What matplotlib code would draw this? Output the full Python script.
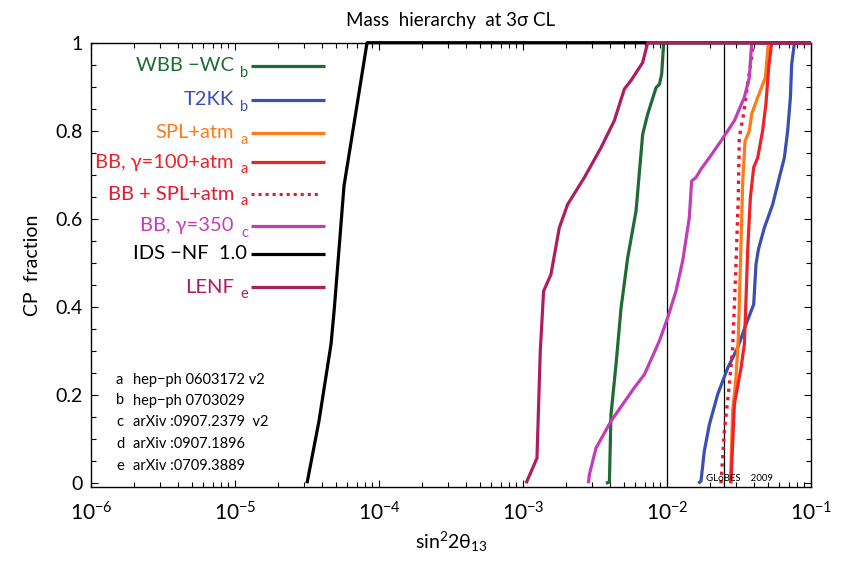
import numpy as np
import matplotlib
matplotlib.use("Agg")
import matplotlib.pyplot as plt
from matplotlib.ticker import MultipleLocator, LogLocator, NullFormatter

plt.rcParams['font.family'] = ['Lato', 'DejaVu Sans']
plt.rcParams['mathtext.fontset'] = 'custom'
plt.rcParams['mathtext.rm'] = 'Lato'
plt.rcParams['mathtext.it'] = 'Lato:italic'
plt.rcParams['mathtext.default'] = 'regular'

# ---- data: log10(sin^2 2theta13) vs CP fraction ----
lenf_logx = [-2.979, -2.903, -2.880, -2.857, -2.806, -2.748, -2.690, -2.574, -2.458, -2.366, -2.296, -2.250, -2.169, -2.134]
lenf_y    = [0.0, 0.057, 0.30, 0.436, 0.474, 0.580, 0.633, 0.694, 0.762, 0.823, 0.895, 0.914, 0.955, 1.0]

wbb_logx = [-2.424, -2.400, -2.389, -2.354, -2.319, -2.273, -2.215, -2.169, -2.134, -2.076, -2.052, -2.037, -2.023]
wbb_y    = [0.0, 0.003, 0.156, 0.27, 0.398, 0.512, 0.618, 0.792, 0.838, 0.898, 0.906, 0.929, 1.0]

bb350_logx = [-2.546, -2.539, -2.493, -2.389, -2.227, -2.157, -2.053, -1.995, -1.938, -1.891, -1.845, -1.829, -1.799, -1.764, -1.706, -1.625, -1.532, -1.463, -1.428, -1.412]
bb350_y    = [0.0, 0.02, 0.08, 0.141, 0.217, 0.247, 0.323, 0.376, 0.436, 0.505, 0.603, 0.686, 0.694, 0.713, 0.739, 0.777, 0.823, 0.876, 0.921, 1.0]

t2kk_logx = [-1.783, -1.764, -1.741, -1.706, -1.648, -1.578, -1.509, -1.451, -1.398, -1.382, -1.365, -1.324, -1.266, -1.220, -1.185, -1.162, -1.143, -1.134, -1.115]
t2kk_y    = [0.0, 0.005, 0.073, 0.133, 0.202, 0.262, 0.308, 0.361, 0.406, 0.497, 0.531, 0.580, 0.633, 0.694, 0.739, 0.80, 0.876, 0.952, 1.0]

spl_logx = [-1.560, -1.544, -1.521, -1.505, -1.490, -1.474, -1.458, -1.428, -1.412, -1.370, -1.317, -1.301, -1.296]
spl_y    = [0.0, 0.164, 0.239, 0.33, 0.497, 0.686, 0.777, 0.80, 0.838, 0.876, 0.921, 0.982, 1.0]

bb100_logx = [-1.556, -1.532, -1.486, -1.463, -1.451, -1.440, -1.421, -1.398, -1.370, -1.336, -1.313, -1.294, -1.273]
bb100_y    = [0.0, 0.179, 0.262, 0.315, 0.421, 0.527, 0.648, 0.717, 0.739, 0.80, 0.861, 0.943, 1.0]

bbspl_logx = [-1.625, -1.602, -1.567, -1.544, -1.521, -1.505, -1.498, -1.468, -1.440, -1.412, -1.401]
bbspl_y    = [0.0, 0.118, 0.224, 0.308, 0.497, 0.648, 0.785, 0.838, 0.906, 0.967, 1.0]

ids_logx = [-4.50, -4.417, -4.333, -4.31, -4.243, -4.083]
ids_y    = [0.0, 0.141, 0.316, 0.398, 0.675, 1.0]

ref_lines = [0.01, 0.025]

labels = ["WBB \u2212WC", "T2KK", "SPL+atm", "BB, \u03b3=100+atm", "BB + SPL+atm",
          "BB, \u03b3=350", "IDS \u2212NF  1.0", "LENF"]
subs = ["b", "b", "a", "a", "a", "c", "", "e"]
refs_keys = ["a", "b", "c", "d", "e"]
refs_text = ["hep\u2212ph 0603172 v2", "hep\u2212ph 0703029", "arXiv :0907.2379  v2",
             "arXiv :0907.1896", "arXiv :0709.3889"]

c_green = '#1f6b33'
c_blue = '#3a4fb4'
c_orange = '#ff7b17'
c_red = '#ee2228'
c_dot = '#e8182e'
c_mag = '#c23db8'
c_black = '#000000'
c_maroon = '#b01d5e'

series = [
    (wbb_logx, wbb_y, c_green, '-'),
    (t2kk_logx, t2kk_y, c_blue, '-'),
    (spl_logx, spl_y, c_orange, '-'),
    (bb100_logx, bb100_y, c_red, '-'),
    (bbspl_logx, bbspl_y, c_dot, ':'),
    (bb350_logx, bb350_y, c_mag, '-'),
    (ids_logx, ids_y, c_black, '-'),
    (lenf_logx, lenf_y, c_maroon, '-'),
]

W, H = 845, 563
fig = plt.figure(figsize=(W/100, H/100), dpi=100)
L, R, T, B = 91, 811, 42.7, 487.3
ax = fig.add_axes([L/W, 1-B/H, (R-L)/W, (B-T)/H])
ax.set_xscale('log')
ax.set_xlim(1e-6, 1e-1)
y0px = 483.3
ax.set_ylim(-(B-y0px)/(y0px-T), 1.0)

for xv in ref_lines:
    ax.axvline(xv, color='black', lw=0.9, zorder=1)

for lx, yy, col, ls in series:
    xs = list(10**np.array(lx)) + [0.1]
    ys = list(yy) + [1.0]
    if ls == ':':
        ax.plot(xs, ys, color=col, lw=2.4, ls=(0, (1, 1.5)), zorder=3, clip_on=False)
    else:
        ax.plot(xs, ys, color=col, lw=2.3, ls=ls, zorder=3, clip_on=False, solid_capstyle='butt')

# legend (manual)
rows_px = [66, 100, 132.7, 162.3, 194, 226, 254, 287.3]
def ax_xy(px, py):
    return ((px-L)/(R-L), (B-py)/(B-T))
for i, (lab, sb) in enumerate(zip(labels, subs)):
    col = series[i][2]
    py = rows_px[i]
    xa0, ya = ax_xy(251, py)
    xa1, _ = ax_xy(325, py)
    if series[i][3] == ':':
        ax.plot([xa0, xa1-0.005], [ya, ya], transform=ax.transAxes, color=col, lw=2.2,
                ls=(0, (1, 1.3)), clip_on=False)
    else:
        ax.plot([xa0, xa1], [ya, ya], transform=ax.transAxes, color=col, lw=2.3,
                solid_capstyle='butt', clip_on=False)
    if sb:
        xt, yt = ax_xy(234, py)
        ax.text(xt, yt, lab, transform=ax.transAxes, ha='right', va='center',
                color=col, fontsize=14.5)
        xs_, ys_ = ax_xy(248, py + 7)
        ax.text(xs_, ys_, sb, transform=ax.transAxes, ha='right', va='center',
                color=col, fontsize=10.5)
    else:
        xt, yt = ax_xy(247, py)
        ax.text(xt, yt, lab, transform=ax.transAxes, ha='right', va='center',
                color=col, fontsize=14.5)

# references
ref_rows = [380, 400.5, 422, 444, 466]
for k, t, py in zip(refs_keys, refs_text, ref_rows):
    xk, yk = ax_xy(116, py)
    ax.text(xk, yk, k, transform=ax.transAxes, ha='left', va='center', fontsize=10.5)
    xr, yr = ax_xy(133, py)
    ax.text(xr, yr, t, transform=ax.transAxes, ha='left', va='center', fontsize=10.5)

xg, yg = ax_xy(706, 478.5)
ax.text(xg, yg, "GLoBES    2009", transform=ax.transAxes, ha='left', va='center', fontsize=7)

# ticks
ax.set_xticks([1e-6, 1e-5, 1e-4, 1e-3, 1e-2, 1e-1])
ax.xaxis.set_minor_locator(LogLocator(base=10, subs=np.arange(2, 10), numticks=100))
ax.xaxis.set_minor_formatter(NullFormatter())
ax.set_xticklabels(["10$^{\u22126}$", "10$^{\u22125}$", "10$^{\u22124}$", "10$^{\u22123}$",
                    "10$^{\u22122}$", "10$^{\u22121}$"], fontsize=15)
ax.set_yticks([0, 0.2, 0.4, 0.6, 0.8, 1.0])
ax.set_yticklabels(["0", "0.2", "0.4", "0.6", "0.8", "1"], fontsize=14)
ax.yaxis.set_minor_locator(MultipleLocator(0.05))
ax.tick_params(which='both', direction='in', top=True, right=True, length=5, width=0.8, pad=6)
ax.tick_params(which='minor', length=3.5)
ax.tick_params(axis='x', which='major', pad=10)
for s in ax.spines.values():
    s.set_linewidth(1.0)

ax.set_title("Mass  hierarchy  at 3\u03c3 CL", fontsize=13.5, pad=12)
ax.set_ylabel("CP  fraction", fontsize=14, labelpad=10)
ax.set_xlabel("sin$^2$2\u03b8$_{13}$", fontsize=14, labelpad=4)

fig.savefig("out.png", dpi=100)
